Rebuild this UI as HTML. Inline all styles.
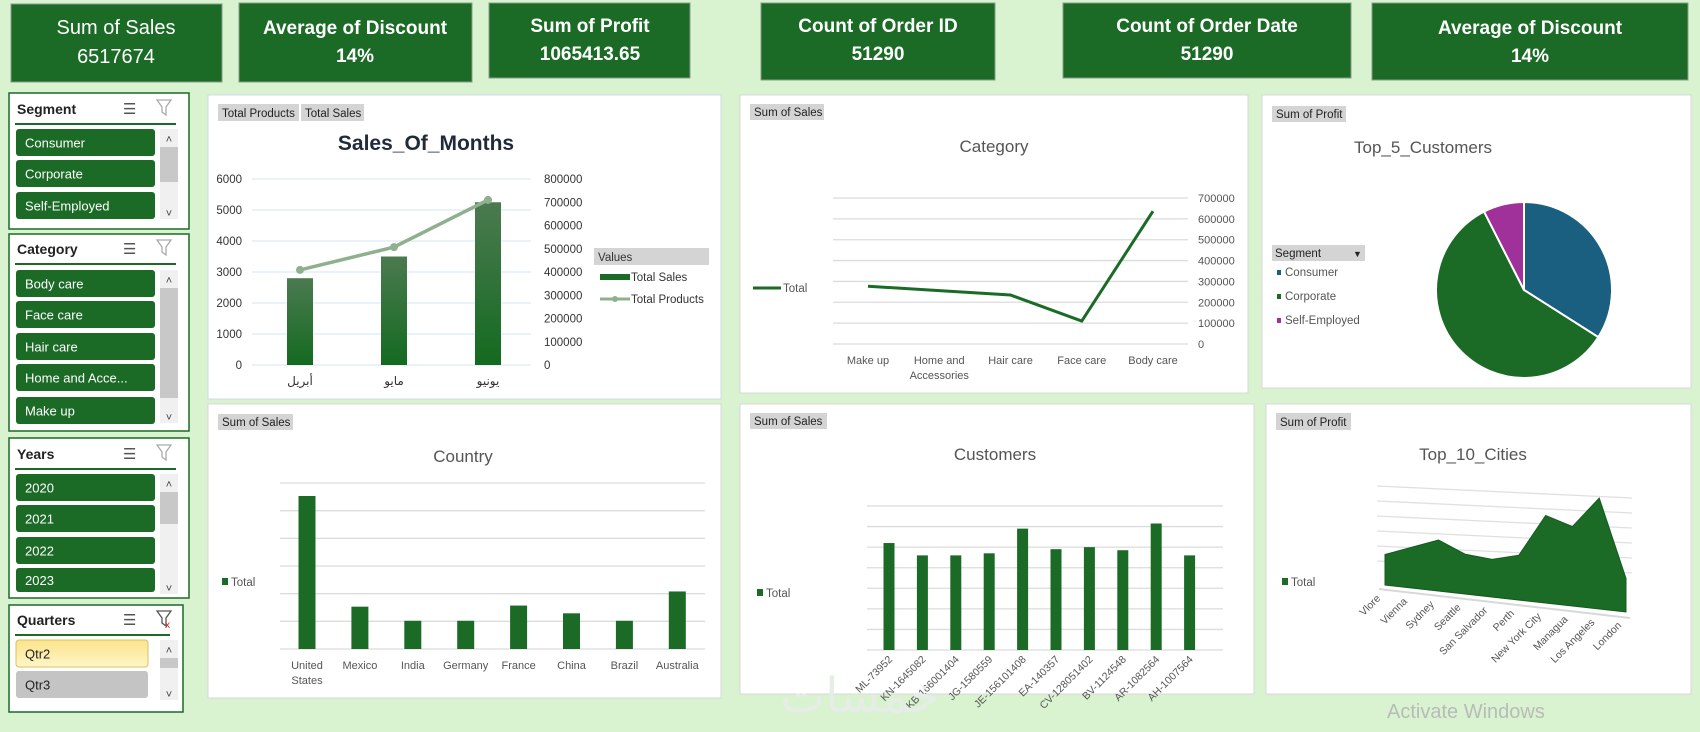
<!DOCTYPE html>
<html><head><meta charset="utf-8"><style>
html,body{margin:0;padding:0;background:#d9f2d0;}
svg{display:block;font-family:"Liberation Sans Narrow","Liberation Sans","DejaVu Sans",sans-serif;}
</style></head><body>
<svg id="root" width="1700" height="732" viewBox="0 0 1700 732" xmlns="http://www.w3.org/2000/svg">
<defs>
<linearGradient id="barg" x1="0" y1="0" x2="0" y2="1"><stop offset="0" stop-color="#4b7a50"/><stop offset="1" stop-color="#146a20"/></linearGradient>
<linearGradient id="yel" x1="0" y1="0" x2="0" y2="1"><stop offset="0" stop-color="#fbe38a"/><stop offset="1" stop-color="#fff6c8"/></linearGradient>
</defs>
<rect width="1700" height="732" fill="#d9f2d0"/>
<!-- KPI cards -->
<g><rect x="11" y="4" width="211" height="78" fill="#1b6b26" stroke="#8a9a8a"/><text x="116" y="34" fill="#fff" font-size="20" text-anchor="middle">Sum of Sales</text><text x="116" y="63" fill="#fff" font-size="20" text-anchor="middle">6517674</text></g>
<g><rect x="239" y="3" width="233" height="79" fill="#1b6b26" stroke="#8a9a8a"/><text x="355" y="34" fill="#fff" font-size="19" font-weight="bold" text-anchor="middle">Average of Discount</text><text x="355" y="62" fill="#fff" font-size="19" font-weight="bold" text-anchor="middle">14%</text></g>
<g><rect x="489" y="3" width="201" height="75" fill="#1b6b26" stroke="#8a9a8a"/><text x="590" y="32" fill="#fff" font-size="19" font-weight="bold" text-anchor="middle">Sum of Profit</text><text x="590" y="60" fill="#fff" font-size="19" font-weight="bold" text-anchor="middle">1065413.65</text></g>
<g><rect x="761" y="3" width="234" height="77" fill="#1b6b26" stroke="#8a9a8a"/><text x="878" y="32" fill="#fff" font-size="19" font-weight="bold" text-anchor="middle">Count of Order ID</text><text x="878" y="60" fill="#fff" font-size="19" font-weight="bold" text-anchor="middle">51290</text></g>
<g><rect x="1063" y="3" width="288" height="75" fill="#1b6b26" stroke="#8a9a8a"/><text x="1207" y="32" fill="#fff" font-size="19" font-weight="bold" text-anchor="middle">Count of Order Date</text><text x="1207" y="60" fill="#fff" font-size="19" font-weight="bold" text-anchor="middle">51290</text></g>
<g><rect x="1372" y="3" width="316" height="77" fill="#1b6b26" stroke="#8a9a8a"/><text x="1530" y="34" fill="#fff" font-size="19" font-weight="bold" text-anchor="middle">Average of Discount</text><text x="1530" y="62" fill="#fff" font-size="19" font-weight="bold" text-anchor="middle">14%</text></g>

<!-- Slicers -->
<g id="slicers"></g>

<!-- chart panels -->
<rect x="208" y="95" width="513" height="304" fill="#fff" stroke="#d0d8e8"/>
<rect x="740" y="95" width="508" height="298" fill="#fff" stroke="#d8d8d8"/>
<rect x="1262" y="95" width="429" height="293" fill="#fff" stroke="#d8d8d8"/>
<rect x="208" y="404" width="513" height="294" fill="#fff" stroke="#d8d8d8"/>
<rect x="740" y="404" width="514" height="290" fill="#fff" stroke="#d8d8d8"/>
<rect x="1266" y="404" width="425" height="290" fill="#fff" stroke="#d8d8d8"/>

<!-- field buttons -->
<g font-size="11.5" fill="#222">
<rect x="218" y="104" width="81" height="17" fill="#d4d4d4"/><text x="222" y="117">Total Products</text>
<rect x="301" y="104" width="63" height="17" fill="#d4d4d4"/><text x="305" y="117">Total Sales</text>
<rect x="750" y="104" width="74" height="16" fill="#d4d4d4"/><text x="754" y="116">Sum of Sales</text>
<rect x="1272" y="106" width="74" height="16" fill="#d4d4d4"/><text x="1276" y="118">Sum of Profit</text>
<rect x="218" y="414" width="75" height="16" fill="#d4d4d4"/><text x="222" y="426">Sum of Sales</text>
<rect x="750" y="413" width="77" height="16" fill="#d4d4d4"/><text x="754" y="425">Sum of Sales</text>
<rect x="1276" y="413" width="75" height="17" fill="#d4d4d4"/><text x="1280" y="426">Sum of Profit</text>
</g>

<!-- titles -->
<text x="426" y="150" font-size="21" font-weight="bold" fill="#1f2a3a" text-anchor="middle">Sales_Of_Months</text>
<text x="994" y="152" font-size="17" fill="#555" text-anchor="middle">Category</text>
<text x="1423" y="153" font-size="17" fill="#555" text-anchor="middle">Top_5_Customers</text>
<text x="463" y="462" font-size="17" fill="#555" text-anchor="middle">Country</text>
<text x="995" y="460" font-size="17" fill="#555" text-anchor="middle">Customers</text>
<text x="1473" y="460" font-size="17" fill="#555" text-anchor="middle">Top_10_Cities</text>

<!-- legends -->
<g font-size="11.5" fill="#333">
<rect x="594" y="248" width="115" height="17" fill="#d4d4d4"/><text x="598" y="261">Values</text>
<rect x="600" y="274" width="30" height="6" fill="#1b6b26"/><text x="631" y="281">Total Sales</text>
<line x1="600" y1="299" x2="630" y2="299" stroke="#8fb08f" stroke-width="3"/><circle cx="615" cy="299" r="3" fill="#8fb08f"/><text x="631" y="303">Total Products</text>
</g>
<g font-size="11.5" fill="#555"><line x1="753" y1="288" x2="781" y2="288" stroke="#1b6b26" stroke-width="3"/><text x="783" y="292">Total</text></g>
<g font-size="11.5" fill="#555">
<rect x="1272" y="245" width="93" height="16" fill="#d4d4d4"/><text x="1275" y="257" fill="#222">Segment</text><text x="1353" y="257" fill="#222" font-size="9">▼</text>
<rect x="1277" y="270" width="4" height="5" fill="#1a5e80"/><text x="1285" y="276">Consumer</text>
<rect x="1277" y="294" width="4" height="5" fill="#1b6b26"/><text x="1285" y="300">Corporate</text>
<rect x="1277" y="318" width="4" height="5" fill="#a0309a"/><text x="1285" y="324">Self-Employed</text>
</g>
<g font-size="11.5" fill="#555"><rect x="222" y="578" width="6" height="7" fill="#1b6b26"/><text x="231" y="586">Total</text></g>
<g font-size="11.5" fill="#555"><rect x="757" y="589" width="6" height="7" fill="#1b6b26"/><text x="766" y="597">Total</text></g>
<g font-size="11.5" fill="#555"><rect x="1282" y="578" width="6" height="7" fill="#1b6b26"/><text x="1291" y="586">Total</text></g>

<g id="charts"></g>

<text x="860" y="712" font-size="48" fill="#e6ede6" text-anchor="middle" font-family="DejaVu Sans, sans-serif">خمسات</text>
<text x="1387" y="718" font-size="20" fill="#b8bcb8">Activate Windows</text>
</svg>
<script>
var NS='http://www.w3.org/2000/svg';
// ---- data ----
var monthLabels=['أبريل','مايو','يونيو'];
var monthSales=[2800,3500,5250];
var monthProducts=[409000,507000,710000];
var catLabels=['Make up','Home and|Accessories','Hair care','Face care','Body care'];
var catValues=[277000,256000,235000,110000,637000];
var segLabels=['Consumer','Corporate','Self-Employed'];
var segValues=[34,58.5,7.5];
var countryLabels=['United|States','Mexico','India','Germany','France','China','Brazil','Australia'];
var countryValues=[5.53,1.53,1.02,1.02,1.57,1.29,1.02,2.08];
var custLabels=['ML-73952','KN-1645082','KB-166001404','JG-1580559','JE-156101408','EA-140357','CV-128051402','BV-1124548','AR-1082564','AH-1007564'];
var custValues=[5.2,4.6,4.6,4.7,5.9,4.9,5.0,4.85,6.15,4.6];
var cityLabels=['Vlore','Vienna','Sydney','Seattle','San Salvador','Perth','New York City','Managua','Los Angeles','London'];
var cityValues=[30,40,50,39,37,44,86,78,109,33];
var leftTicks=[0,1000,2000,3000,4000,5000,6000];
var rightTicks=[0,100000,200000,300000,400000,500000,600000,700000,800000];
var catTicks=[0,100000,200000,300000,400000,500000,600000,700000];

var root=document.getElementById('charts');
function mk(tag,attrs,parent,txt){var e=document.createElementNS(NS,tag);for(var k in attrs)e.setAttribute(k,attrs[k]);if(txt!==undefined)e.textContent=txt;(parent||root).appendChild(e);return e;}

// ---- Chart 1: Sales_Of_Months ----
(function(){
var g=mk('g',{});


var y0=365,yT=179;
function yL(v){return y0-v/6000*(y0-yT);}
function yR(v){return y0-v/800000*(y0-yT);}
var xs=[300,394,488];
leftTicks.forEach(function(t){
 var l=mk('line',{x1:252,x2:531,y1:yL(t),y2:yL(t),stroke:'#d3e3f3','stroke-width':1},g);
 
 
 var tx=mk('text',{x:242,y:yL(t)+4,'font-size':11.5,fill:'#333','text-anchor':'end'},g,String(t));
 
 
});
rightTicks.forEach(function(t){
 var tx=mk('text',{x:544,y:yR(t)+4,'font-size':11.5,fill:'#333'},g,String(t));
 
 
});
monthSales.forEach(function(v,i){
 var r=mk('rect',{x:xs[i]-13,y:yL(v),width:26,height:y0-yL(v),fill:'url(#barg)'},g);
 
 
 var tx=mk('text',{x:xs[i],y:385,'font-size':12,fill:'#333','text-anchor':'middle','font-family':'DejaVu Sans, sans-serif'},g,monthLabels[i]);
 
 
});
var pts=monthProducts.map(function(v,i){return xs[i]+','+yR(v);}).join(' ');
var pl=mk('polyline',{points:pts,fill:'none',stroke:'#8fb08f','stroke-width':3.5},g);


monthProducts.forEach(function(v,i){
 var c=mk('circle',{cx:xs[i],cy:yR(v),r:4,fill:'#8fb08f'},g);
 
 
});
})();

// ---- Chart 2: Category ----
(function(){
var g=mk('g',{});


var y0=344,yT=198;
function y(v){return y0-v/700000*(y0-yT);}
var x0=868,dx=71.25;
catTicks.forEach(function(t){
 var l=mk('line',{x1:833,x2:1188,y1:y(t),y2:y(t),stroke:'#dcdcdc','stroke-width':1.3},g);
 
 
 var tx=mk('text',{x:1198,y:y(t)+4,'font-size':11,fill:'#555'},g,String(t));
 
 
});
var pts=catValues.map(function(v,i){return (x0+i*dx)+','+y(v);}).join(' ');
var pl=mk('polyline',{points:pts,fill:'none',stroke:'#1b6b26','stroke-width':3},g);


catLabels.forEach(function(s,i){
 s.split('|').forEach(function(p,j){
  var tx=mk('text',{x:x0+i*dx,y:364+j*15,'font-size':11,fill:'#555','text-anchor':'middle'},g,p);
  
  
 });
});
})();

// ---- Chart 3: Pie ----
(function(){
var g=mk('g',{});


var cx=1524,cy=290,r=88,cols=['#1a5e80','#1b6b26','#a0309a'];
var tot=segValues.reduce(function(a,b){return a+b;},0),a=0;
segValues.forEach(function(v,i){
 var a1=a+v/tot*2*Math.PI;
 var x1=cx+r*Math.sin(a),y1=cy-r*Math.cos(a),x2=cx+r*Math.sin(a1),y2=cy-r*Math.cos(a1);
 var p=mk('path',{d:'M'+cx+','+cy+' L'+x1+','+y1+' A'+r+','+r+' 0 '+((a1-a)>Math.PI?1:0)+' 1 '+x2+','+y2+' Z',fill:cols[i],stroke:'#fff','stroke-width':2},g);
 
 
 a=a1;
});
})();

// ---- Chart 4: Country ----
(function(){
var g=mk('g',{});


var y0=649,yT=483;
function y(v){return y0-v/6*(y0-yT);}
for(var t=0;t<=6;t++){
 var l=mk('line',{x1:280,x2:705,y1:y(t),y2:y(t),stroke:'#dcdcdc','stroke-width':1.3},g);
 
 
}
var x0=307,dx=52.9;
countryValues.forEach(function(v,i){
 var r=mk('rect',{x:x0+i*dx-8.5,y:y(v),width:17,height:y0-y(v),fill:'#1b6b26'},g);
 
 
 countryLabels[i].split('|').forEach(function(p,j){
  var tx=mk('text',{x:x0+i*dx,y:669+j*15,'font-size':11,fill:'#555','text-anchor':'middle'},g,p);
  
  
 });
});
})();

// ---- Chart 5: Customers ----
(function(){
var g=mk('g',{});


var y0=650,yT=506;
function y(v){return y0-v/7*(y0-yT);}
for(var t=0;t<=7;t++){
 var l=mk('line',{x1:867,x2:1223,y1:y(t),y2:y(t),stroke:'#dcdcdc','stroke-width':1.3},g);
 
 
}
var x0=889,dx=33.4;
custValues.forEach(function(v,i){
 var x=x0+i*dx;
 var r=mk('rect',{x:x-5.5,y:y(v),width:11,height:y0-y(v),fill:'#1b6b26'},g);
 
 
 var tx=mk('text',{x:x+4,y:660,'font-size':10.5,fill:'#555','text-anchor':'end',transform:'rotate(-45 '+(x+4)+' 660)'},g,custLabels[i]);
 
 
});
})();

// ---- Chart 6: Top_10_Cities (3D area) ----
(function(){
var g=mk('g',{});


for(var k=0;k<6;k++){
 var l=mk('line',{x1:1377,y1:486+k*15,x2:1632,y2:498+k*15,stroke:'#e0e0e0','stroke-width':1.3},g);
 
 
}
var xL=1385,xR=1626,bL=585,bR=612,n=cityValues.length;
function bx(i){return xL+i*(xR-xL)/(n-1);}
function by(i){return bL+i*(bR-bL)/(n-1);}
function h(v){return v/110*112;}
var pts=[];
cityValues.forEach(function(v,i){pts.push(bx(i)+','+(by(i)-h(v)));});
pts.push(bx(n-1)+','+by(n-1));pts.push(bx(0)+','+by(0));
var ar=mk('polygon',{points:pts.join(' '),fill:'#1b6b26',stroke:'#165a1f','stroke-width':1},g);


var fl=mk('line',{x1:xL-6,y1:bL+4,x2:xR+4,y2:bR+6,stroke:'#d8d8d8','stroke-width':2},g);


cityLabels.forEach(function(s,i){
 var x=bx(i)-4,yy=by(i)+14;
 var tx=mk('text',{x:x,y:yy,'font-size':10.5,fill:'#555','text-anchor':'end',transform:'rotate(-45 '+x+' '+yy+')'},g,s);
 
 
});
})();

// ---- Slicers ----
var sl=document.getElementById('slicers');
function slicer(name,title,box,lineY,items,scroll,clearRed){
 var g=mk('g',{},sl);
 
 
 mk('rect',{x:box[0],y:box[1],width:box[2],height:box[3],fill:'#fff',stroke:'#1b6b26','stroke-width':1.5},g);
 mk('text',{x:box[0]+8,y:lineY-10,'font-size':14,'font-weight':'bold',fill:'#222'},g,title);
 var ic=mk('text',{x:box[0]+114,y:lineY-10,'font-size':15,fill:'#555'},g,'☰');
 
 
 var fx=box[0]+148,fy=lineY-24;
 var f=mk('path',{d:'M'+fx+','+fy+' h14 l-5,7 v8 l-4,-3 v-5 z',fill:'none',stroke:clearRed?'#555':'#aaa','stroke-width':1.3},g);
 
 
 if(clearRed)mk('text',{x:fx+8,y:fy+17,'font-size':10,fill:'#d22'},g,'x');
 mk('line',{x1:box[0]+6,x2:box[0]+box[2]-13,y1:lineY,y2:lineY,stroke:'#1b6b26','stroke-width':2},g);
 items.forEach(function(it){
  var r=mk('rect',{x:box[0]+7,y:it[1],width:it[3]||139,height:it[2],rx:3,fill:it[4]||'#1b6b26',stroke:it[5]||'none'},g);
  
  
  mk('text',{x:box[0]+16,y:it[1]+it[2]/2+5,'font-size':13,fill:it[6]||'#fff'},g,it[0]);
 });
 var sx=box[0]+151;
 var sb=mk('rect',{x:sx,y:scroll[0],width:18,height:scroll[1],fill:'#f0f0f0'},g);
 
 
 mk('rect',{x:sx,y:scroll[0]+18,width:18,height:scroll[2],fill:'#c8c8c8'},g);
 mk('text',{x:sx+9,y:scroll[0]+14,'font-size':11,fill:'#444','text-anchor':'middle'},g,'˄');
 mk('text',{x:sx+9,y:scroll[0]+scroll[1]-2,'font-size':11,fill:'#444','text-anchor':'middle'},g,'˅');
}
slicer('segment','Segment',[9,93,180,136],124,[['Consumer',129,27],['Corporate',160,27],['Self-Employed',192,27]],[129,90,35],false);
slicer('category','Category',[9,234,180,197],264,[['Body care',270,27],['Face care',301,27],['Hair care',333,27],['Home and Acce...',364,27],['Make up',397,27]],[270,153,110],false);
slicer('years','Years',[9,438,180,160],469,[['2020',474,27],['2021',505,27],['2022',537,27],['2023',568,24]],[474,120,32],false);
slicer('quarters','Quarters',[9,605,174,107],635,[['Qtr2',640,27,132,'url(#yel)','#d8c060','#222'],['Qtr3',671,27,132,'#c4c4c4','none','#222']],[640,60,10],true);
</script>
</body></html>
